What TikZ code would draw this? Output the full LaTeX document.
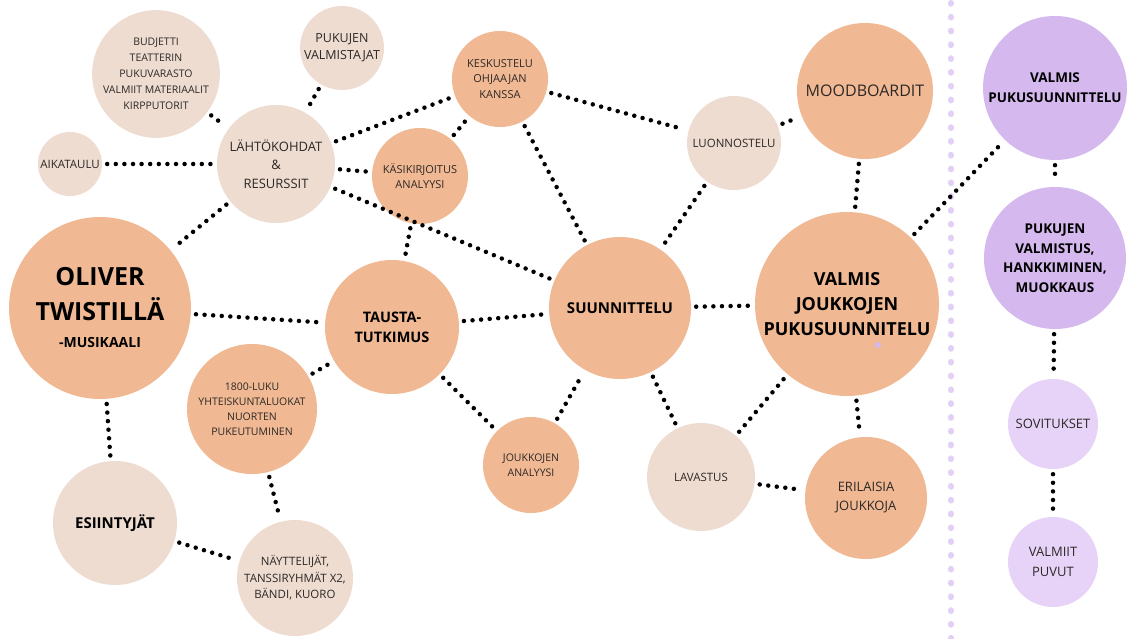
\documentclass[tikz,border=0pt]{standalone}
\usepackage{fontspec}
\setmainfont{Open Sans}
\definecolor{peach}{RGB}{240,185,147}
\definecolor{sand}{RGB}{238,220,208}
\definecolor{violetd}{RGB}{212,184,238}
\definecolor{violetl}{RGB}{231,211,248}
\definecolor{divline}{RGB}{226,208,246}
\definecolor{ink}{RGB}{45,40,38}
\tikzset{
    mynode/.style = {circle, inner sep=0pt, draw=none, align=center, text=ink},
    mynodeo/.style = {mynode, fill=peach},
    mynodes/.style = {mynode, fill=sand},
    mynodev/.style = {mynode, fill=violetd},
    mynodevl/.style = {mynode, fill=violetl},
    fs/.style 2 args = {font=\fontsize{#1}{#2}\selectfont},
    fb/.style 2 args = {font=\fontsize{#1}{#2}\selectfont\bfseries, text=black},
    edged/.style = {-, line width=4.5pt, black, line cap=round, dash pattern=on 0pt off 8.6pt, shorten >=5pt, shorten <=5pt}, % dotted link
    divider/.style = {-, line width=6pt, divline, line cap=round, dash pattern=on 0.8pt off 13pt} % column split
}

\begin{document}
\begin{tikzpicture}[x=1pt, y=-1pt]
\path[use as bounding box] (0,0) rectangle (1136,639);
%
\coordinate (dtop) at (951,3);
\coordinate (dbot) at (951,639);
\draw[divider] (dtop) -- (dbot);
%
\node[mynodes, minimum size=122pt, fs={10.5}{16}] at (156,74) (budjetti) {BUDJETTI\\TEATTERIN\\PUKUVARASTO\\VALMIIT MATERIAALIT\\KIRPPUTORIT};
\node[mynodes, minimum size=84pt, fs={12.5}{17}] at (342,48) (valmistajat) {PUKUJEN\\VALMISTAJAT};
\node[mynodes, minimum size=64pt, fs={11.5}{14}] at (70,164) (aikataulu) {AIKATAULU};
\node[mynodes, minimum size=118pt, fs={13}{18.5}] at (276,164) (lahto) {LÄHTÖKOHDAT\\\&\\RESURSSIT};
\node[mynodeo, minimum size=96pt, fs={11}{15.5}] at (500,79) (keskustelu) {KESKUSTELU\\OHJAAJAN\\KANSSA};
\node[mynodeo, minimum size=96pt, fs={11}{15}] at (420,176) (kasikirjoitus) {KÄSIKIRJOITUS\\ANALYYSI};
\node[mynodes, minimum size=94pt, fs={11.5}{14}] at (734,143) (luonnostelu) {LUONNOSTELU};
\node[mynodeo, minimum size=136pt, fs={16}{20}] at (865,91) (moodboardit) {MOODBOARDIT};
%
\node[mynodeo, minimum size=182pt, fb={25}{35}] at (100,308) (oliver) {OLIVER\\TWISTILLÄ\\[-8pt]{\fontsize{14}{16}\selectfont -MUSIKAALI}};
\node[mynodeo, minimum size=134pt, fb={14.5}{20}] at (392,327) (tausta) {TAUSTA-\\TUTKIMUS};
\node[mynodeo, minimum size=142pt, fb={15}{20}] at (620,308) (suunnittelu) {SUUNNITTELU};
\node[mynodeo, minimum size=184pt, fb={18}{25}] at (847,304) (valmisjoukko) {VALMIS\\JOUKKOJEN\\PUKUSUUNNITELU};
\node[mynodeo, minimum size=130pt, fs={10.5}{15}] at (252,409) (vuosisata) {1800-LUKU\\YHTEISKUNTALUOKAT\\NUORTEN\\PUKEUTUMINEN};
\node[mynodes, minimum size=124pt, fb={15}{20}] at (115,523) (esiintyjat) {ESIINTYJÄT};
\node[mynodes, minimum size=116pt, fs={11.5}{16.5}] at (295,578) (nayttelijat) {NÄYTTELIJÄT,\\TANSSIRYHMÄT X2,\\BÄNDI, KUORO};
\node[mynodeo, minimum size=96pt, fs={10.5}{15}] at (531,465) (analyysi) {JOUKKOJEN\\ANALYYSI};
\node[mynodes, minimum size=108pt, fs={11.5}{14}] at (701,477) (lavastus) {LAVASTUS};
\node[mynodeo, minimum size=122pt, fs={13}{19}] at (866,498) (erilaisia) {ERILAISIA\\JOUKKOJA};
%
\node[mynodev, minimum size=144pt, fb={13.5}{20}] at (1055,88) (valmispuku) {VALMIS\\PUKUSUUNNITTELU};
\node[mynodev, minimum size=142pt, fb={13.5}{19.5}] at (1055,258) (valmistus) {PUKUJEN\\VALMISTUS,\\HANKKIMINEN,\\MUOKKAUS};
\node[mynodevl, minimum size=90pt, fs={13}{18}] at (1053,424) (sovitukset) {SOVITUKSET};
\node[mynodevl, minimum size=90pt, fs={13}{20}] at (1053,562) (puvut) {VALMIIT\\PUVUT};
%
\fill[violetd] (878,345) circle (3pt);
%
\draw[edged] (budjetti) -- (lahto);
\draw[edged] (valmistajat) -- (lahto);
\draw[edged] (aikataulu) -- (lahto);
\draw[edged] (lahto) -- (keskustelu);
\draw[edged] (lahto) -- (kasikirjoitus);
\draw[edged] (lahto) -- (suunnittelu);
\draw[edged] (lahto) -- (oliver);
\draw[edged] (kasikirjoitus) -- (keskustelu);
\draw[edged] (kasikirjoitus) -- (tausta);
\draw[edged] (keskustelu) -- (suunnittelu);
\draw[edged] (keskustelu) -- (luonnostelu);
\draw[edged] (luonnostelu) -- (suunnittelu);
\draw[edged] (luonnostelu) -- (moodboardit);
\draw[edged] (moodboardit) -- (valmisjoukko);
\draw[edged] (valmisjoukko) -- (valmispuku);
\draw[edged] (valmispuku) -- (valmistus);
\draw[edged] (valmistus) -- (sovitukset);
\draw[edged] (sovitukset) -- (puvut);
\draw[edged] (oliver) -- (tausta);
\draw[edged] (oliver) -- (esiintyjat);
\draw[edged] (esiintyjat) -- (nayttelijat);
\draw[edged] (vuosisata) -- (nayttelijat);
\draw[edged] (vuosisata) -- (tausta);
\draw[edged] (tausta) -- (suunnittelu);
\draw[edged] (tausta) -- (analyysi);
\draw[edged] (analyysi) -- (suunnittelu);
\draw[edged] (suunnittelu) -- (valmisjoukko);
\draw[edged] (suunnittelu) -- (lavastus);
\draw[edged] (lavastus) -- (valmisjoukko);
\draw[edged] (lavastus) -- (erilaisia);
\draw[edged] (valmisjoukko) -- (erilaisia);

\end{tikzpicture}
\end{document}
